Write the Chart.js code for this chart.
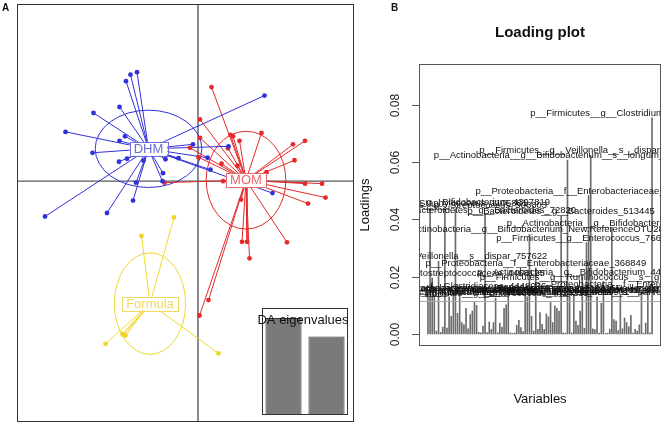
<!DOCTYPE html>
<html><head><meta charset="utf-8">
<script src="https://cdn.jsdelivr.net/npm/chart.js@4.4.1/dist/chart.umd.min.js"></script>
<style>
html,body{margin:0;padding:0;background:#fff;width:666px;height:426px;overflow:hidden;position:relative;font-family:"Liberation Sans",Arial,sans-serif}
canvas{position:absolute}
#cA{left:0;top:0}
#cEig{left:250px;top:300px}
#cB{left:356px;top:0}
.tag{position:absolute;font:bold 10px "Liberation Sans",Arial,sans-serif;line-height:10px;color:#111}
</style></head><body>
<canvas id="cA" width="360" height="426"></canvas>
<canvas id="cEig" width="102" height="122"></canvas>
<canvas id="cB" width="310" height="426"></canvas>
<div class="tag" style="left:2px;top:3px">A</div>
<div class="tag" style="left:391px;top:3px">B</div>
<script>
const FONT = '"Liberation Sans", Arial, sans-serif';

// ---------- Panel A data ----------
const groupNames = ['DHM', 'MOM', 'Formula'];
const centX = [-0.99, 0.96, -0.96];
const centY = [0.65, 0.02, -2.46];
const ellRx = [1.066, 0.797, 0.713];
const ellRy = [0.777, 0.983, 1.02];
const dhmX = [-1.22,-1.35,-1.44,-1.57,-2.09,-2.65,-1.46,-1.57,-2.11,-1.42,-1.58,-1.09,-1.24,-1.30,-1.82,-3.06,-0.65,-0.70,-0.71,-0.39,-0.10,0.61,0.19,0.25,1.33,1.49];
const dhmY = [2.19,2.14,2.01,1.49,1.37,0.99,0.90,0.81,0.57,0.45,0.39,0.41,-0.03,-0.39,-0.64,-0.71,0.44,0.16,0.00,0.46,0.74,0.70,0.47,0.23,1.72,-0.24];
const momX = [0.27,0.04,0.04,0.65,0.70,0.83,1.27,2.14,1.90,1.93,-0.16,0.01,-0.67,0.47,0.79,1.37,0.50,2.14,2.48,2.55,2.20,1.78,0.88,0.98,1.03,0.86,0.21,0.03,0.60];
const momY = [1.89,1.24,0.87,0.93,0.90,0.81,0.97,0.81,0.74,0.42,0.67,0.48,-0.03,0.35,0.31,0.18,0.00,-0.05,-0.05,-0.33,-0.45,-1.23,-1.22,-1.22,-1.55,-0.37,-2.39,-2.70,0.66];
const forX = [-0.48,-1.13,-1.85,-1.51,-1.45,-1.49,0.41];
const forY = [-0.73,-1.10,-3.27,-3.07,-3.10,-3.09,-3.46];
const eigLabels = ['1', '2'];
const eigValues = [100, 81];

// ---------- Panel B data ----------
const loadings = [
0.0142,0.0440,0.0196,0.0135,0.0010,0.0254,0.0006,0.0024,0.0445,0.0021,
0.0130,0.0062,0.0150,0.0435,0.0072,0.0140,0.0040,0.0032,0.0090,0.0018,
0.0068,0.0080,0.0110,0.0100,0.0006,0.0004,0.0028,0.0417,0.0005,0.0042,
0.0016,0.0040,0.0125,0.0004,0.0038,0.0024,0.0090,0.0102,0.0145,0.0004,
0.0002,0.0004,0.0030,0.0048,0.0022,0.0008,0.0135,0.0130,0.0348,0.0062,
0.0010,0.0231,0.0016,0.0075,0.0034,0.0016,0.0070,0.0060,0.0110,0.0040,
0.0098,0.0090,0.0080,0.0411,0.0004,0.0003,0.0607,0.0140,0.0004,0.0135,
0.0045,0.0030,0.0080,0.0201,0.0020,0.0319,0.0484,0.0624,0.0018,0.0015,
0.0130,0.0003,0.0107,0.0183,0.0002,0.0003,0.0017,0.0371,0.0050,0.0045,
0.0012,0.0135,0.0018,0.0056,0.0040,0.0025,0.0065,0.0003,0.0016,0.0010,
0.0032,0.0145,0.0003,0.0038,0.0159,0.0004,0.0755];
const threshold = 0.0116;
const yTicks = [0, 0.02, 0.04, 0.06, 0.08];
const yTickLabels = ['0.00', '0.02', '0.04', '0.06', '0.08'];
const labelIdx = [0,1,2,3,5,8,10,12,13,15,27,32,38,46,47,48,51,63,66,67,69,73,75,76,77,80,83,87,91,101,104,106];
const labelTxt = [
'p__Firmicutes__f__Lachnospiraceae_191806',
'p__Firmicutes__g__Staphylococcus_1105881',
'p__Firmicutes__f__Peptostreptococcaceae_4468125',
'p__Firmicutes__g__Streptococcus_4381553',
'p__Firmicutes__g__Veillonella__s__dispar_757622',
'p__Actinobacteria__g__Bifidobacterium_4397819',
'p__Firmicutes__g__Clostridium_4421767',
'p__Firmicutes__f__Clostridiaceae_4448036',
'p__Firmicutes__g__Streptococcus_508803',
'p__Proteobacteria__g__Haemophilus_4437478',
'p__Bacteroidetes__g__Bacteroides_72820',
'p__Firmicutes__g__Enterococcus_4424239',
'p__Proteobacteria__f__Enterobacteriaceae_1103166',
'p__Firmicutes__g__Veillonella_4379564',
'p__Firmicutes__f__Ruminococcaceae_4336931',
'p__Actinobacteria__g__Bifidobacterium_New.ReferenceOTU28',
'p__Proteobacteria__f__Enterobacteriaceae_368849',
'p__Bacteroidetes__g__Bacteroides_513445',
'p__Actinobacteria__g__Bifidobacterium__s__longum_4399781',
'p__Proteobacteria__f__Enterobacteriaceae_4408010',
'p__Firmicutes__g__Lactobacillus_1108870',
'p__Actinobacteria__g__Bifidobacterium_4426298',
'p__Firmicutes__g__Enterococcus_766213',
'p__Proteobacteria__f__Enterobacteriaceae_4373407',
'p__Firmicutes__g__Veillonella__s__dispar_4464578',
'p__Firmicutes__g__Veillonella__s__parvula_4345960',
'p__Firmicutes__g__Ruminococcus__s__gnavus_4391527',
'p__Actinobacteria__g__Bifidobacterium_4301367',
'p__Proteobacteria__f__Enterobacteriaceae_4464927',
'p__Firmicutes__g__Veillonella__s__dispar_4371231',
'p__Proteobacteria__f__Enterobacteriaceae_4479989',
'p__Firmicutes__g__Clostridium__s__neonatale_4378990'];

// ---------- styles ----------
const groupColors = ['#3131d9', '#e42a2a', '#f0d62c'];
const groupLabelColors = ['#6c6ce0', '#ea6b6b', '#efd95e'];

// ---------- Panel A ----------
const grpX = [dhmX, momX, forX];
const grpY = [dhmY, momY, forY];
const dsA = [];
grpX.forEach((xs, g) => {
  const spoke = [];
  xs.forEach((x, i) => {
    spoke.push({x: centX[g], y: centY[g]}, {x: x, y: grpY[g][i]}, {x: null, y: null});
  });
  dsA.push({type: 'line', data: spoke, borderColor: groupColors[g], borderWidth: 1,
    pointRadius: 0, fill: false, tension: 0, spanGaps: false, order: 1});
  dsA.push({type: 'scatter', data: xs.map((x, i) => ({x: x, y: grpY[g][i]})),
    backgroundColor: groupColors[g], borderWidth: 0, pointRadius: 2.4, order: 0});
});

const aPlugin = {
  id: 'aPlug',
  beforeDatasetsDraw(chart) {
    const {ctx, chartArea: a, scales: {x, y}} = chart;
    ctx.save();
    // cross
    ctx.strokeStyle = '#5a5a5a'; ctx.lineWidth = 1.4;
    const x0 = x.getPixelForValue(0), y0 = y.getPixelForValue(0);
    ctx.beginPath(); ctx.moveTo(x0, a.top); ctx.lineTo(x0, a.bottom);
    ctx.moveTo(a.left, y0); ctx.lineTo(a.right, y0); ctx.stroke();
    // ellipses
    groupNames.forEach((n, g) => {
      const cx = x.getPixelForValue(centX[g]), cy = y.getPixelForValue(centY[g]);
      const rx = Math.abs(x.getPixelForValue(centX[g] + ellRx[g]) - cx);
      const ry = Math.abs(y.getPixelForValue(centY[g] + ellRy[g]) - cy);
      ctx.strokeStyle = groupColors[g]; ctx.lineWidth = 1;
      ctx.beginPath(); ctx.ellipse(cx, cy, rx, ry, 0, 0, Math.PI * 2); ctx.stroke();
    });
    ctx.restore();
  },
  afterDatasetsDraw(chart) {
    const {ctx, chartArea: a, scales: {x, y}} = chart;
    ctx.save();
    ctx.font = '13px ' + FONT;
    ctx.textAlign = 'center'; ctx.textBaseline = 'middle';
    groupNames.forEach((n, g) => {
      const cx = x.getPixelForValue(centX[g]), cy = y.getPixelForValue(centY[g]);
      const w = ctx.measureText(n).width + 8, h = 14;
      ctx.fillStyle = '#fff'; ctx.fillRect(cx - w / 2, cy - h / 2, w, h);
      ctx.strokeStyle = groupLabelColors[g]; ctx.lineWidth = 1;
      ctx.strokeRect(Math.round(cx - w / 2) + 0.5, Math.round(cy - h / 2) + 0.5, Math.round(w), h);
      ctx.fillStyle = groupLabelColors[g]; ctx.fillText(n, cx, cy + 0.5);
    });
    // frame
    ctx.strokeStyle = '#333'; ctx.lineWidth = 1;
    ctx.strokeRect(a.left + 0.5, a.top + 0.5, a.right - a.left - 1, a.bottom - a.top - 1);
    ctx.restore();
  }
};

new Chart(document.getElementById('cA'), {
  type: 'scatter',
  data: {datasets: dsA},
  options: {
    animation: false, responsive: false, events: [],
    layout: {padding: {left: 17, right: 6, top: 3, bottom: 3}},
    scales: {
      x: {type: 'linear', min: -3.62, max: 3.12, display: false},
      y: {type: 'linear', min: -4.84, max: 3.56, display: false}
    },
    plugins: {legend: {display: false}, tooltip: {enabled: false}}
  },
  plugins: [aPlugin]
});

// ---------- eigenvalue inset ----------
const eigPlugin = {
  id: 'eigPlug',
  afterDraw(chart) {
    const {ctx, chartArea: a} = chart;
    ctx.save();
    ctx.strokeStyle = '#333'; ctx.lineWidth = 1;
    ctx.strokeRect(a.left + 0.5, a.top + 0.5, a.right - a.left - 1, a.bottom - a.top - 1);
    ctx.fillStyle = '#111'; ctx.font = '13px ' + FONT;
    ctx.textAlign = 'center'; ctx.textBaseline = 'middle';
    ctx.fillText('DA eigenvalues', (a.left + a.right) / 2 - 2, a.top + 12);
    ctx.restore();
  }
};
new Chart(document.getElementById('cEig'), {
  type: 'bar',
  data: {labels: eigLabels, datasets: [{data: eigValues, backgroundColor: '#7a7a7a',
    borderColor: '#333', borderWidth: 1, barPercentage: 0.84, categoryPercentage: 1}]},
  options: {
    animation: false, responsive: false, events: [],
    layout: {padding: {left: 12, right: 4, top: 8, bottom: 7}},
    scales: {x: {display: false}, y: {display: false, min: 0, max: 110.3}},
    plugins: {legend: {display: false}, tooltip: {enabled: false}}
  },
  plugins: [eigPlugin]
});

// ---------- Panel B ----------
const nVar = loadings.length;
const bPlugin = {
  id: 'bPlug',
  afterDatasetsDraw(chart) {
    const {ctx, chartArea: a, scales: {x, y}} = chart;
    ctx.save();
    // threshold line
    const ty = Math.round(y.getPixelForValue(threshold)) + 0.5;
    ctx.strokeStyle = '#a8a8a8'; ctx.lineWidth = 1;
    ctx.beginPath(); ctx.moveTo(a.left, ty); ctx.lineTo(a.right, ty); ctx.stroke();
    // labels
    ctx.beginPath(); ctx.rect(a.left, 0, a.right - a.left, chart.height); ctx.clip();
    ctx.fillStyle = '#111'; ctx.font = '9.5px ' + FONT;
    ctx.textAlign = 'center'; ctx.textBaseline = 'middle';
    labelIdx.forEach((k, j) => {
      const px = x.getPixelForValue(k + 1), py = y.getPixelForValue(loadings[k]);
      ctx.fillText(labelTxt[j], px, py - 4.5);
    });
    ctx.restore();
  },
  afterDraw(chart) {
    const {ctx, chartArea: a, scales: {y}} = chart;
    ctx.save();
    ctx.strokeStyle = '#555'; ctx.lineWidth = 1;
    ctx.strokeRect(a.left + 0.5, a.top + 0.5, a.right - a.left - 1, a.bottom - a.top - 1);
    ctx.fillStyle = '#222'; ctx.font = '12px ' + FONT;
    ctx.textAlign = 'center'; ctx.textBaseline = 'middle';
    yTicks.forEach((t, i) => {
      const py = Math.round(y.getPixelForValue(t)) + 0.5;
      ctx.beginPath(); ctx.moveTo(a.left - 7, py); ctx.lineTo(a.left, py); ctx.stroke();
      ctx.save(); ctx.translate(a.left - 23, py); ctx.rotate(-Math.PI / 2);
      ctx.fillText(yTickLabels[i], 0, 0); ctx.restore();
    });
    const cx = (a.left + a.right) / 2;
    ctx.fillStyle = '#111';
    ctx.font = 'bold 15px ' + FONT; ctx.fillText('Loading plot', cx, 33);
    ctx.font = '13px ' + FONT; ctx.fillText('Variables', cx, 399);
    ctx.save(); ctx.translate(9.5, (a.top + a.bottom) / 2); ctx.rotate(-Math.PI / 2);
    ctx.fillText('Loadings', 0, 0); ctx.restore();
    ctx.restore();
  }
};
new Chart(document.getElementById('cB'), {
  type: 'bar',
  data: {datasets: [{data: loadings.map((v, i) => ({x: i + 1, y: v})),
    backgroundColor: '#6c6c6c', barThickness: 1}]},
  options: {
    animation: false, responsive: false, events: [],
    layout: {padding: {left: 63, right: 5, top: 64, bottom: 80}},
    scales: {
      x: {type: 'linear', offset: false, min: 1 - 0.04 * (nVar - 1), max: nVar + 0.04 * (nVar - 1), display: false},
      y: {type: 'linear', min: -0.0042, max: 0.0943, display: false}
    },
    plugins: {legend: {display: false}, tooltip: {enabled: false}}
  },
  plugins: [bPlugin]
});
</script>
</body></html>
